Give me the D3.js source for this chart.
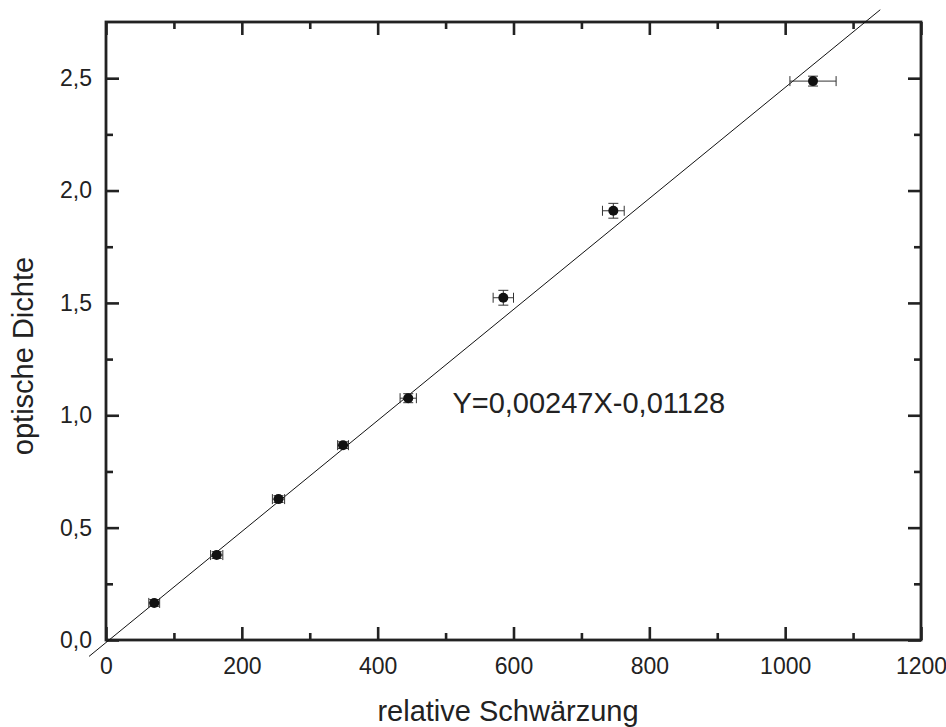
<!DOCTYPE html>
<html>
<head>
<meta charset="utf-8">
<script src="https://cdn.jsdelivr.net/npm/d3@7"></script>
<style>
  body { margin: 0; background: #fff; }
  svg { display: block; font-family: Arial, "Liberation Sans", Helvetica, sans-serif; }
</style>
</head>
<body>
<svg id="chart" width="946" height="727"></svg>
<script>
// Messwerte
const schwaerzung = [71, 163, 254, 349, 445, 585, 747, 1041]
const dichte = [0.165, 0.378, 0.627, 0.867, 1.076, 1.523, 1.91, 2.487]
const xErr = [8, 9, 9, 8, 12, 15, 16, 34]
const yErr = [0.015, 0.015, 0.015, 0.015, 0.02, 0.033, 0.033, 0.022]

// Fit
const slope = 0.00247
const intercept = -0.01128
const fitRange = [-25, 1140]
const fitLabel = 'Y=0,00247X-0,01128'

const xMajor = [0, 200, 400, 600, 800, 1000, 1200]
const xMinor = [100, 300, 500, 700, 900, 1100]
const yMajor = [0, 0.5, 1.0, 1.5, 2.0, 2.5]
const yMinor = [0.25, 0.75, 1.25, 1.75, 2.25]

const svg = d3.select('#chart')
const margin = { left: 106, top: 22, right: 25, bottom: 87 }
const width = 946 - margin.left - margin.right
const height = 727 - margin.top - margin.bottom
const ink = '#222'
const font = 'Arial, "Liberation Sans", sans-serif'

const x = d3.scaleLinear().domain([0, 1200]).range([0, width])
const y = d3.scaleLinear().domain([0, 2.75]).range([height, 0])
const fmtY = d => d3.format('.1f')(d).replace('.', ',')
const fmtX = d3.format('d')

const g = svg.append('g').attr('transform', `translate(${margin.left},${margin.top})`)

// Achsen mit Ticks nach innen
function axisGroup(axis, tx, ty) {
  const a = g.append('g').attr('transform', `translate(${tx},${ty})`).call(axis)
  a.select('.domain').remove()
  a.selectAll('line').attr('stroke', ink).attr('stroke-width', 2.6)
  return a
}

const bottomMajor = axisGroup(d3.axisBottom(x).tickValues(xMajor).tickFormat(fmtX).tickSizeInner(-13).tickSizeOuter(0).tickPadding(18), 0, height)
bottomMajor.selectAll('text').attr('font-size', 23).attr('fill', ink).attr('font-family', font)
axisGroup(d3.axisBottom(x).tickValues(xMinor).tickSizeInner(-7).tickSizeOuter(0).tickFormat(''), 0, height)
axisGroup(d3.axisTop(x).tickValues(xMajor).tickSizeInner(-13).tickSizeOuter(0).tickFormat(''), 0, 0)
axisGroup(d3.axisTop(x).tickValues(xMinor).tickSizeInner(-7).tickSizeOuter(0).tickFormat(''), 0, 0)

const leftMajor = axisGroup(d3.axisLeft(y).tickValues(yMajor).tickSizeInner(-13).tickSizeOuter(0).tickPadding(14).tickFormat(fmtY), 0, 0)
leftMajor.selectAll('text').attr('font-size', 23).attr('fill', ink).attr('font-family', font)
axisGroup(d3.axisLeft(y).tickValues(yMinor).tickSizeInner(-7).tickSizeOuter(0).tickFormat(''), 0, 0)
axisGroup(d3.axisRight(y).tickValues(yMajor).tickSizeInner(-13).tickSizeOuter(0).tickFormat(''), width, 0)
axisGroup(d3.axisRight(y).tickValues(yMinor).tickSizeInner(-7).tickSizeOuter(0).tickFormat(''), width, 0)

// Rahmen
g.append('rect')
  .attr('width', width)
  .attr('height', height)
  .attr('fill', 'none')
  .attr('stroke', ink)
  .attr('stroke-width', 2.8)

// Ausgleichsgerade
g.append('line')
  .attr('x1', x(fitRange[0]))
  .attr('y1', y(slope * fitRange[0] + intercept))
  .attr('x2', x(fitRange[1]))
  .attr('y2', y(slope * fitRange[1] + intercept))
  .attr('stroke', '#111')
  .attr('stroke-width', 1)

// Fehlerbalken
const pts = schwaerzung.map((v, i) => ({ x: v, y: dichte[i], ex: xErr[i], ey: yErr[i] }))
const cap = 5
const eb = g.append('g').attr('stroke', '#333').attr('stroke-width', 1)
pts.forEach(p => {
  const cx = x(p.x)
  const cy = y(p.y)
  const x0 = x(p.x - p.ex)
  const x1 = x(p.x + p.ex)
  const y0 = y(p.y - p.ey)
  const y1 = y(p.y + p.ey)
  eb.append('line').attr('x1', x0).attr('x2', x1).attr('y1', cy).attr('y2', cy)
  eb.append('line').attr('x1', x0).attr('x2', x0).attr('y1', cy - cap).attr('y2', cy + cap)
  eb.append('line').attr('x1', x1).attr('x2', x1).attr('y1', cy - cap).attr('y2', cy + cap)
  eb.append('line').attr('x1', cx).attr('x2', cx).attr('y1', y0).attr('y2', y1)
  eb.append('line').attr('x1', cx - cap).attr('x2', cx + cap).attr('y1', y0).attr('y2', y0)
  eb.append('line').attr('x1', cx - cap).attr('x2', cx + cap).attr('y1', y1).attr('y2', y1)
})

g.append('g')
  .selectAll('circle')
  .data(pts)
  .enter()
  .append('circle')
  .attr('cx', d => x(d.x))
  .attr('cy', d => y(d.y))
  .attr('r', 5)
  .attr('fill', '#111')

// Gleichung
g.append('text')
  .attr('x', x(510))
  .attr('y', y(1.01))
  .attr('font-size', 29)
  .attr('fill', ink)
  .text(fitLabel)

// Achsentitel
svg.append('text')
  .attr('x', 508)
  .attr('y', 721)
  .attr('text-anchor', 'middle')
  .attr('font-size', 29)
  .attr('fill', ink)
  .text('relative Schwärzung')

svg.append('text')
  .attr('transform', 'translate(33,356) rotate(-90)')
  .attr('text-anchor', 'middle')
  .attr('font-size', 29)
  .attr('fill', ink)
  .text('optische Dichte')
</script>
</body>
</html>
